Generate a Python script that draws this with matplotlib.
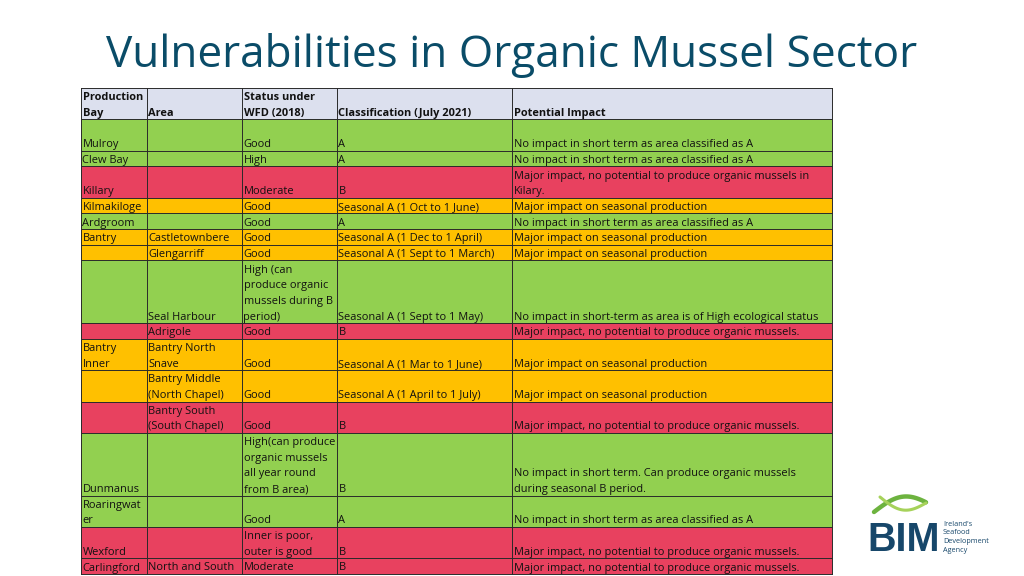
import matplotlib
matplotlib.use("Agg")
import matplotlib.pyplot as plt
from matplotlib.patches import Rectangle
import numpy as np

plt.rcParams['font.family'] = ['Open Sans', 'DejaVu Sans']

title = "Vulnerabilities in Organic Mussel Sector"

headers = ["Production\nBay", "Area", "Status under\nWFD (2018)",
           "Classification (July 2021)", "Potential Impact"]

bays = ["Mulroy", "Clew Bay", "Killary", "Kilmakiloge", "Ardgroom", "Bantry", "",
        "", "", "Bantry\nInner", "", "", "Dunmanus", "Roaringwat\ner", "Wexford",
        "Carlingford"]
areas = ["", "", "", "", "", "Castletownbere", "Glengarriff",
         "Seal Harbour", "Adrigole", "Bantry North\nSnave", "Bantry Middle\n(North Chapel)",
         "Bantry South\n(South Chapel)", "", "", "", "North and South"]
status = ["Good", "High", "Moderate", "Good", "Good", "Good", "Good",
          "High (can\nproduce organic\nmussels during B\nperiod)", "Good", "Good", "Good",
          "Good", "High(can produce\norganic mussels\nall year round\nfrom B area)", "Good",
          "Inner is poor,\nouter is good", "Moderate"]
classification = ["A", "A", "B", "Seasonal A (1 Oct to 1 June)", "A",
                  "Seasonal A (1 Dec to 1 April)", "Seasonal A (1 Sept to 1 March)",
                  "Seasonal A (1 Sept to 1 May)", "B", "Seasonal A (1 Mar to 1 June)",
                  "Seasonal A (1 April to 1 July)", "B", "B", "A", "B", "B"]
impact = ["No impact in short term as area classified as A",
          "No impact in short term as area classified as A",
          "Major impact, no potential to produce organic mussels in\nKilary.",
          "Major impact on seasonal production",
          "No impact in short term as area classified as A",
          "Major impact on seasonal production",
          "Major impact on seasonal production",
          "No impact in short-term as area is of High ecological status",
          "Major impact, no potential to produce organic mussels.",
          "Major impact on seasonal production",
          "Major impact on seasonal production",
          "Major impact, no potential to produce organic mussels.",
          "No impact in short term. Can produce organic mussels\nduring seasonal B period.",
          "No impact in short term as area classified as A",
          "Major impact, no potential to produce organic mussels.",
          "Major impact, no potential to produce organic mussels."]
# row height in text lines
row_lines = [2, 1, 2, 1, 1, 1, 1, 4, 1, 2, 2, 2, 4, 2, 2, 1]
header_lines = 2
# traffic light rating of each row
rating = ["g", "g", "r", "o", "g", "o", "o", "g", "r", "o", "o", "r", "g", "g", "r", "r"]

colors = {"g": "#92D050", "r": "#E8415F", "o": "#FFC000", "h": "#DCE0EE"}
col_x = [81, 147, 242, 337, 512, 832]
top, bottom = 88, 574
n_lines = header_lines + sum(row_lines)
lh = (bottom - top) / n_lines

fig = plt.figure(figsize=(10.24, 5.76), dpi=100)
ax = fig.add_axes([0, 0, 1, 1])
ax.set_xlim(0, 1024)
ax.set_ylim(576, 0)
ax.axis("off")

fig.text(0.5, 1 - 67 / 576, title, ha="center", va="baseline", fontsize=31.8,
         color="#0A4C68")

fs = 7.9
tcol = "#111111"


def draw_row(y0, nl, cells, face, bold=False):
    y1 = y0 + nl * lh
    ax.add_patch(Rectangle((col_x[0], y0), col_x[-1] - col_x[0], y1 - y0,
                           facecolor=face, edgecolor="none", zorder=1))
    ax.plot([col_x[0], col_x[-1]], [y1, y1], color="#2a2a2a", lw=0.7, zorder=2)
    for i, txt in enumerate(cells):
        if not txt:
            continue
        lines = txt.split("\n")
        for k, ln in enumerate(lines):
            yb = y1 - 3.5 - (len(lines) - 1 - k) * lh
            ax.text(col_x[i] + 1.5, yb, ln, ha="left", va="baseline", fontsize=fs,
                    color=tcol, fontweight="bold" if bold else "normal", zorder=3)
    return y1


y = draw_row(top, header_lines, headers, colors["h"], bold=True)
for j in range(len(bays)):
    cells = [bays[j], areas[j], status[j], classification[j], impact[j]]
    y = draw_row(y, row_lines[j], cells, colors[rating[j]])

for x in col_x:
    ax.plot([x, x], [top, bottom], color="#2a2a2a", lw=0.7, zorder=2)
ax.plot([col_x[0], col_x[-1]], [top, top], color="#2a2a2a", lw=0.7, zorder=2)

# BIM logo
t = np.linspace(0, 1, 60)
ax.plot(874 + 52 * t, 512 - 12 * np.sin(np.pi * t * 0.9) - 6 * t, color="#6DB33F", lw=3.2,
        solid_capstyle="round", zorder=3)
ax.plot(880 + 46 * t, 497 + 10 * np.sin(np.pi * t) + 6 * t, color="#A6D25A", lw=2.2,
        solid_capstyle="round", zorder=3)
ax.text(867, 551, "BIM", ha="left", va="baseline", fontsize=28.5, fontweight="bold",
        color="#17476A", family=["Liberation Sans", "DejaVu Sans"])
for k, w in enumerate(["Ireland's", "Seafood", "Development", "Agency"]):
    ax.text(943, 526 + k * 8.5, w, ha="left", va="baseline", fontsize=5.2,
            color="#17476A")

fig.savefig("out.png", dpi=100)
